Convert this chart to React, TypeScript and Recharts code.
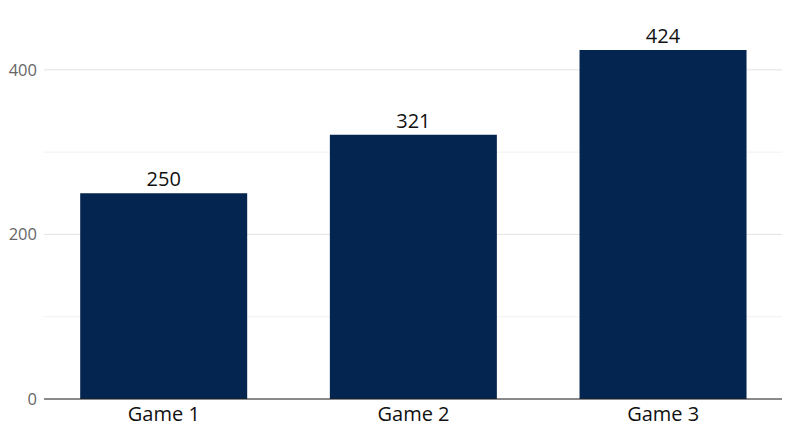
import React from 'react';
import { BarChart, Bar, XAxis, YAxis, CartesianGrid, LabelList } from 'recharts';

const categories = ['Game 1', 'Game 2', 'Game 3'];
const values = [250, 321, 424];
const yTicks = [0, 200, 400];
const minorTicks = [100, 300];

const data = categories.map((name, i) => ({ name, value: values[i] }));

const FONT = '"Open Sans", Lato, sans-serif';

export default function App() {
  return (
    <div style={{ position: 'absolute', left: 0, top: 0, width: 800, height: 447, background: '#fff' }}>
      <BarChart
        width={800}
        height={447}
        data={data}
        margin={{ top: 4, right: 18, bottom: 18, left: 0 }}
        barCategoryGap="16.5%"
      >
        <CartesianGrid vertical={false} horizontalValues={minorTicks} stroke="#f1f1f1" strokeWidth={1} />
        <CartesianGrid vertical={false} horizontalValues={yTicks} stroke="#e3e3e3" strokeWidth={1} />
        <XAxis
          dataKey="name"
          axisLine={{ stroke: '#222222', strokeWidth: 1 }}
          tickLine={false}
          tickSize={0}
          tickMargin={8}
          height={30}
          padding={{ left: -5, right: -6 }}
          tick={{ fill: '#111111', fontSize: 20, fontFamily: FONT }}
        />
        <YAxis
          domain={[0, 480]}
          ticks={yTicks}
          width={44}
          axisLine={false}
          tickLine={false}
          tickSize={0}
          tickMargin={7}
          tick={{ fill: '#666666', fontSize: 16.5, fontFamily: FONT }}
        />
        <Bar dataKey="value" fill="#03254f" isAnimationActive={false}>
          <LabelList dataKey="value" position="top" offset={7} fill="#111111" fontSize={20} fontFamily={FONT} />
        </Bar>
      </BarChart>
    </div>
  );
}
